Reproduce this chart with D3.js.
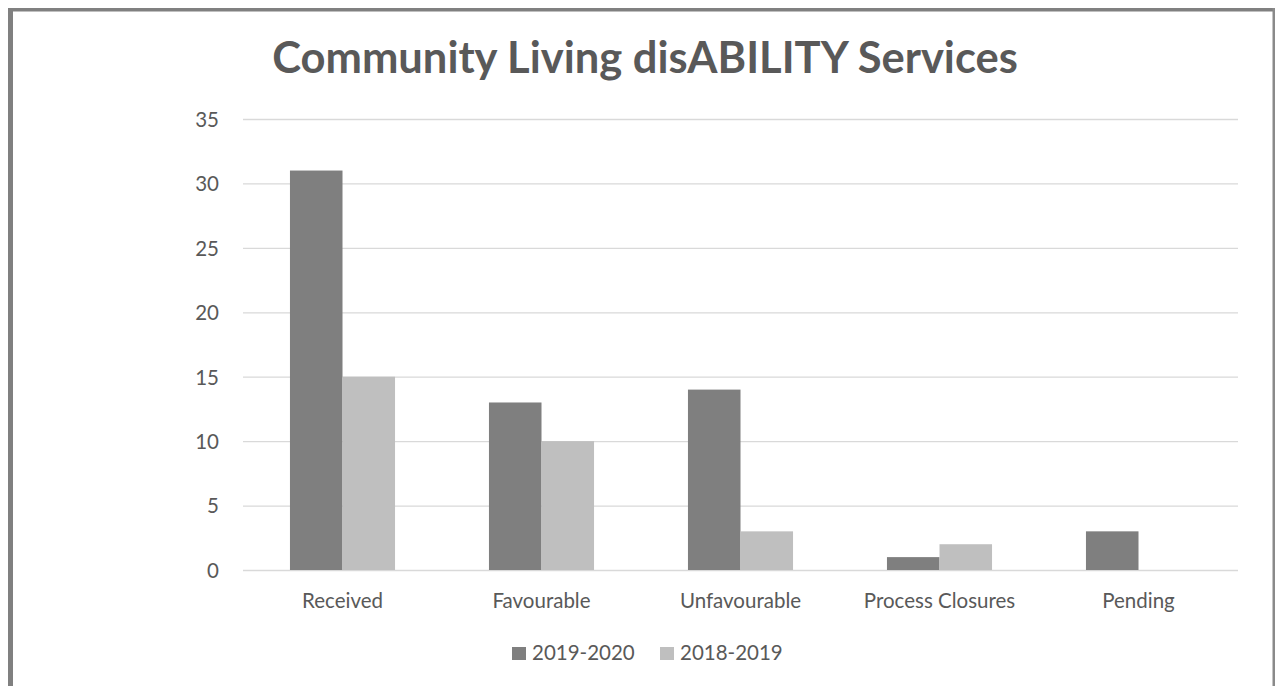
<!DOCTYPE html>
<html>
<head>
<meta charset="utf-8">
<script src="https://cdn.jsdelivr.net/npm/d3@7"></script>
<style>
  html, body { margin: 0; padding: 0; background: #fff; }
  svg { display: block; }
  text { font-family: Lato, "Open Sans", sans-serif; fill: #595959; }
</style>
</head>
<body>
<script>
const categories = ["Received", "Favourable", "Unfavourable", "Process Closures", "Pending"];
const seriesNames = ["2019-2020", "2018-2019"];
const values2019_2020 = [31, 13, 14, 1, 3];
const values2018_2019 = [15, 10, 3, 2, 0];
const yTicks = [0, 5, 10, 15, 20, 25, 30, 35];
const seriesColors = ["#7f7f7f", "#bfbfbf"];
const title = "Community Living disABILITY Services";

const W = 1275, H = 686;
const svg = d3.select("body").append("svg").attr("width", W).attr("height", H);

// frame
svg.append("rect").attr("x", 8).attr("y", 8).attr("width", 5).attr("height", H - 8).attr("fill", "#808080");
svg.append("rect").attr("x", 8).attr("y", 8).attr("width", W - 8).attr("height", 3.5).attr("fill", "#808080");
svg.append("rect").attr("x", 1272.5).attr("y", 8).attr("width", 2.5).attr("height", H - 8).attr("fill", "#8a8a8a");

const x0 = d3.scaleBand().domain(categories).range([243, 1238]).paddingInner(0).paddingOuter(0);
const step = x0.bandwidth();
const x1 = d3.scaleBand().domain(seriesNames).range([step * 0.236, step * 0.764]).padding(0);
const y = d3.scaleLinear().domain([0, 35]).range([570, 119]);

// gridlines
const yAxis = d3.axisLeft(y).tickValues(yTicks).tickSize(-(1238 - 243)).tickPadding(24);
const gy = svg.append("g").attr("transform", "translate(243,0)").call(yAxis);
gy.select(".domain").remove();
gy.selectAll(".tick line").attr("stroke", "#d9d9d9").attr("stroke-width", 1.3);
gy.selectAll(".tick text").attr("font-size", 20.5).attr("fill", "#595959")
  .attr("font-family", "Lato, 'Open Sans', sans-serif").attr("dy", "0.36em").attr("x", -24);

// bars
const data = categories.map((c, i) => ({ cat: c, vals: [values2019_2020[i], values2018_2019[i]] }));
const groups = svg.append("g").selectAll("g").data(data).join("g")
  .attr("transform", d => `translate(${x0(d.cat)},0)`);
groups.selectAll("rect").data(d => d.vals.map((v, j) => ({ s: seriesNames[j], v, j })))
  .join("rect")
  .attr("x", d => x1(d.s))
  .attr("width", x1.bandwidth())
  .attr("y", d => y(d.v))
  .attr("height", d => y(0) - y(d.v))
  .attr("fill", d => seriesColors[d.j]);

// x axis labels
const xAxis = d3.axisBottom(x0).tickSize(0).tickPadding(0);
const gx = svg.append("g").attr("transform", "translate(0,570)").call(xAxis);
gx.select(".domain").remove();
gx.selectAll(".tick text").attr("font-size", 20.5).attr("fill", "#595959")
  .attr("font-family", "Lato, 'Open Sans', sans-serif").attr("dy", 0).attr("y", 38);

// title
const t = svg.append("text").attr("x", 645).attr("y", 73).attr("text-anchor", "middle")
  .attr("font-weight", "bold").attr("font-size", 40).style("fill", "#595959").text(title);
const tw = t.node().getComputedTextLength();
t.attr("font-size", 40 * 746 / tw);

// legend
const legend = svg.append("g");
const legX = [512, 660];
seriesNames.forEach((s, i) => {
  legend.append("rect").attr("x", legX[i]).attr("y", 647).attr("width", 14).attr("height", 13).attr("fill", seriesColors[i]);
  legend.append("text").attr("x", legX[i] + 20).attr("y", 660).attr("font-size", 20.5).text(s);
});
</script>
</body>
</html>
